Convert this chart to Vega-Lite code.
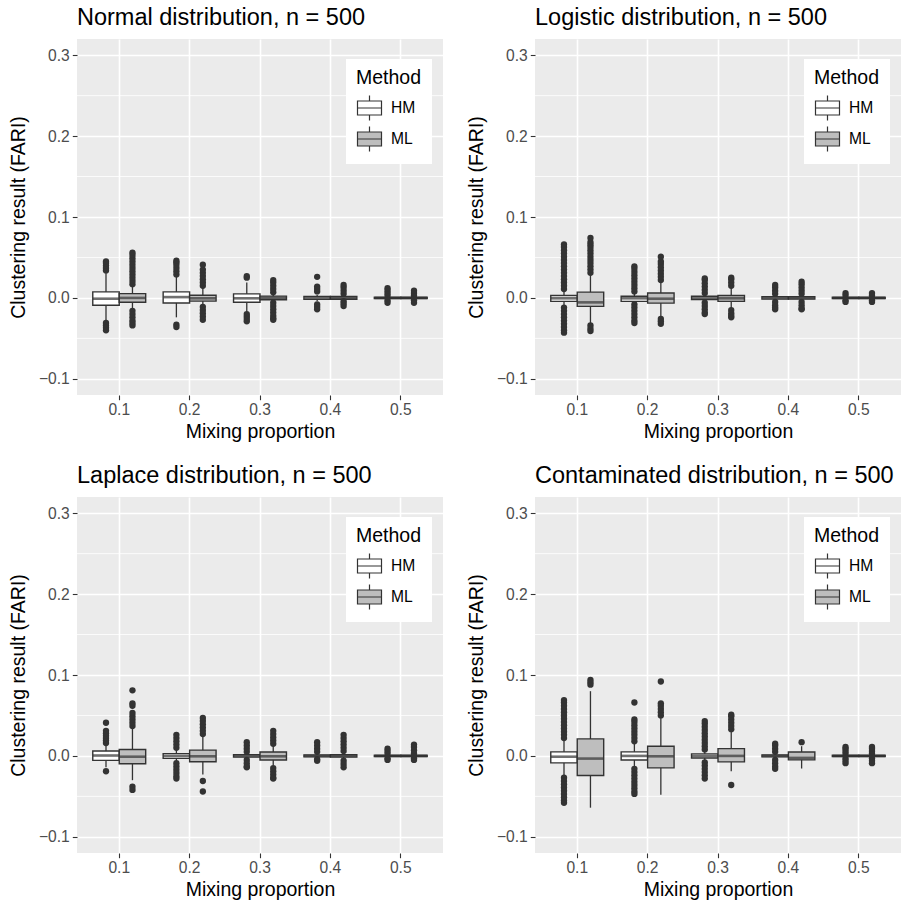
{
  "$schema": "https://vega.github.io/schema/vega-lite/v6.json",
  "padding": {"left": 8, "top": 5, "right": 0, "bottom": 5},
  "datasets": {
    "minor": [{"v": -0.05}, {"v": 0.05}, {"v": 0.15}, {"v": 0.25}],
    "boxes": [
      {"dist": "Normal", "p": "0.1", "method": "HM", "lo": -0.028, "q1": -0.009, "med": -0.001, "q3": 0.0074, "hi": 0.031},
      {"dist": "Normal", "p": "0.1", "method": "ML", "lo": -0.014, "q1": -0.0053, "med": 0.0, "q3": 0.0053, "hi": 0.015},
      {"dist": "Normal", "p": "0.2", "method": "HM", "lo": -0.024, "q1": -0.0062, "med": 0.001, "q3": 0.0074, "hi": 0.027},
      {"dist": "Normal", "p": "0.2", "method": "ML", "lo": -0.009, "q1": -0.004, "med": -0.0005, "q3": 0.0033, "hi": 0.013},
      {"dist": "Normal", "p": "0.3", "method": "HM", "lo": -0.017, "q1": -0.0053, "med": -0.0005, "q3": 0.005, "hi": 0.019},
      {"dist": "Normal", "p": "0.3", "method": "ML", "lo": -0.004, "q1": -0.0022, "med": 0.0, "q3": 0.0022, "hi": 0.005},
      {"dist": "Normal", "p": "0.4", "method": "HM", "lo": -0.004, "q1": -0.0018, "med": 0.0, "q3": 0.0018, "hi": 0.004},
      {"dist": "Normal", "p": "0.4", "method": "ML", "lo": -0.003, "q1": -0.0017, "med": 0.0, "q3": 0.0017, "hi": 0.003},
      {"dist": "Normal", "p": "0.5", "method": "HM", "lo": -0.002, "q1": -0.0008, "med": 0.0, "q3": 0.0008, "hi": 0.002},
      {"dist": "Normal", "p": "0.5", "method": "ML", "lo": -0.002, "q1": -0.0008, "med": 0.0, "q3": 0.0008, "hi": 0.002},
      {"dist": "Logistic", "p": "0.1", "method": "HM", "lo": -0.01, "q1": -0.0043, "med": -0.0005, "q3": 0.003, "hi": 0.009},
      {"dist": "Logistic", "p": "0.1", "method": "ML", "lo": -0.031, "q1": -0.0105, "med": -0.0055, "q3": 0.0072, "hi": 0.029},
      {"dist": "Logistic", "p": "0.2", "method": "HM", "lo": -0.006, "q1": -0.0043, "med": -0.0005, "q3": 0.002, "hi": 0.006},
      {"dist": "Logistic", "p": "0.2", "method": "ML", "lo": -0.023, "q1": -0.0064, "med": -0.001, "q3": 0.006, "hi": 0.02},
      {"dist": "Logistic", "p": "0.3", "method": "HM", "lo": -0.004, "q1": -0.002, "med": 0.0, "q3": 0.002, "hi": 0.004},
      {"dist": "Logistic", "p": "0.3", "method": "ML", "lo": -0.0125, "q1": -0.0043, "med": -0.0005, "q3": 0.003, "hi": 0.013},
      {"dist": "Logistic", "p": "0.4", "method": "HM", "lo": -0.003, "q1": -0.0015, "med": 0.0, "q3": 0.0015, "hi": 0.003},
      {"dist": "Logistic", "p": "0.4", "method": "ML", "lo": -0.003, "q1": -0.0015, "med": 0.0, "q3": 0.0015, "hi": 0.003},
      {"dist": "Logistic", "p": "0.5", "method": "HM", "lo": -0.0015, "q1": -0.0008, "med": 0.0, "q3": 0.0008, "hi": 0.0015},
      {"dist": "Logistic", "p": "0.5", "method": "ML", "lo": -0.0015, "q1": -0.0008, "med": 0.0, "q3": 0.0008, "hi": 0.0015},
      {"dist": "Laplace", "p": "0.1", "method": "HM", "lo": -0.014, "q1": -0.0055, "med": 0.0005, "q3": 0.006, "hi": 0.014},
      {"dist": "Laplace", "p": "0.1", "method": "ML", "lo": -0.03, "q1": -0.0096, "med": -0.001, "q3": 0.008, "hi": 0.035},
      {"dist": "Laplace", "p": "0.2", "method": "HM", "lo": -0.007, "q1": -0.003, "med": 0.0, "q3": 0.0028, "hi": 0.008},
      {"dist": "Laplace", "p": "0.2", "method": "ML", "lo": -0.023, "q1": -0.0072, "med": -0.0005, "q3": 0.0072, "hi": 0.024},
      {"dist": "Laplace", "p": "0.3", "method": "HM", "lo": -0.003, "q1": -0.0015, "med": 0.0, "q3": 0.0015, "hi": 0.003},
      {"dist": "Laplace", "p": "0.3", "method": "ML", "lo": -0.012, "q1": -0.005, "med": -0.0005, "q3": 0.0048, "hi": 0.012},
      {"dist": "Laplace", "p": "0.4", "method": "HM", "lo": -0.003, "q1": -0.0012, "med": 0.0, "q3": 0.0012, "hi": 0.003},
      {"dist": "Laplace", "p": "0.4", "method": "ML", "lo": -0.004, "q1": -0.0015, "med": 0.0, "q3": 0.0015, "hi": 0.004},
      {"dist": "Laplace", "p": "0.5", "method": "HM", "lo": -0.0015, "q1": -0.0008, "med": 0.0, "q3": 0.0008, "hi": 0.0015},
      {"dist": "Laplace", "p": "0.5", "method": "ML", "lo": -0.0015, "q1": -0.0008, "med": 0.0, "q3": 0.0008, "hi": 0.0015},
      {"dist": "Contaminated", "p": "0.1", "method": "HM", "lo": -0.025, "q1": -0.0086, "med": -0.001, "q3": 0.005, "hi": 0.02},
      {"dist": "Contaminated", "p": "0.1", "method": "ML", "lo": -0.064, "q1": -0.0243, "med": -0.0033, "q3": 0.021, "hi": 0.08},
      {"dist": "Contaminated", "p": "0.2", "method": "HM", "lo": -0.014, "q1": -0.005, "med": 0.0, "q3": 0.005, "hi": 0.016},
      {"dist": "Contaminated", "p": "0.2", "method": "ML", "lo": -0.048, "q1": -0.0148, "med": -0.0005, "q3": 0.012, "hi": 0.047},
      {"dist": "Contaminated", "p": "0.3", "method": "HM", "lo": -0.006, "q1": -0.0025, "med": 0.0, "q3": 0.0025, "hi": 0.006},
      {"dist": "Contaminated", "p": "0.3", "method": "ML", "lo": -0.019, "q1": -0.0074, "med": 0.0, "q3": 0.009, "hi": 0.03},
      {"dist": "Contaminated", "p": "0.4", "method": "HM", "lo": -0.003, "q1": -0.0012, "med": 0.0, "q3": 0.0012, "hi": 0.003},
      {"dist": "Contaminated", "p": "0.4", "method": "ML", "lo": -0.0156, "q1": -0.0049, "med": -0.0025, "q3": 0.0049, "hi": 0.012},
      {"dist": "Contaminated", "p": "0.5", "method": "HM", "lo": -0.0015, "q1": -0.0008, "med": 0.0, "q3": 0.0008, "hi": 0.0015},
      {"dist": "Contaminated", "p": "0.5", "method": "ML", "lo": -0.0015, "q1": -0.0008, "med": 0.0, "q3": 0.0008, "hi": 0.0015}
    ],
    "outliers": [
      {"dist": "Normal", "p": "0.1", "method": "HM", "v": 0.034},
      {"dist": "Normal", "p": "0.1", "method": "HM", "v": 0.037},
      {"dist": "Normal", "p": "0.1", "method": "HM", "v": 0.04},
      {"dist": "Normal", "p": "0.1", "method": "HM", "v": 0.043},
      {"dist": "Normal", "p": "0.1", "method": "HM", "v": 0.045},
      {"dist": "Normal", "p": "0.1", "method": "HM", "v": -0.031},
      {"dist": "Normal", "p": "0.1", "method": "HM", "v": -0.034},
      {"dist": "Normal", "p": "0.1", "method": "HM", "v": -0.037},
      {"dist": "Normal", "p": "0.1", "method": "HM", "v": -0.04},
      {"dist": "Normal", "p": "0.1", "method": "ML", "v": 0.017},
      {"dist": "Normal", "p": "0.1", "method": "ML", "v": 0.021},
      {"dist": "Normal", "p": "0.1", "method": "ML", "v": 0.025},
      {"dist": "Normal", "p": "0.1", "method": "ML", "v": 0.029},
      {"dist": "Normal", "p": "0.1", "method": "ML", "v": 0.033},
      {"dist": "Normal", "p": "0.1", "method": "ML", "v": 0.037},
      {"dist": "Normal", "p": "0.1", "method": "ML", "v": 0.041},
      {"dist": "Normal", "p": "0.1", "method": "ML", "v": 0.045},
      {"dist": "Normal", "p": "0.1", "method": "ML", "v": 0.049},
      {"dist": "Normal", "p": "0.1", "method": "ML", "v": 0.053},
      {"dist": "Normal", "p": "0.1", "method": "ML", "v": 0.056},
      {"dist": "Normal", "p": "0.1", "method": "ML", "v": -0.016},
      {"dist": "Normal", "p": "0.1", "method": "ML", "v": -0.02},
      {"dist": "Normal", "p": "0.1", "method": "ML", "v": -0.024},
      {"dist": "Normal", "p": "0.1", "method": "ML", "v": -0.028},
      {"dist": "Normal", "p": "0.1", "method": "ML", "v": -0.031},
      {"dist": "Normal", "p": "0.1", "method": "ML", "v": -0.034},
      {"dist": "Normal", "p": "0.2", "method": "HM", "v": 0.029},
      {"dist": "Normal", "p": "0.2", "method": "HM", "v": 0.033},
      {"dist": "Normal", "p": "0.2", "method": "HM", "v": 0.037},
      {"dist": "Normal", "p": "0.2", "method": "HM", "v": 0.041},
      {"dist": "Normal", "p": "0.2", "method": "HM", "v": 0.044},
      {"dist": "Normal", "p": "0.2", "method": "HM", "v": 0.046},
      {"dist": "Normal", "p": "0.2", "method": "HM", "v": -0.033},
      {"dist": "Normal", "p": "0.2", "method": "HM", "v": -0.036},
      {"dist": "Normal", "p": "0.2", "method": "ML", "v": 0.015},
      {"dist": "Normal", "p": "0.2", "method": "ML", "v": 0.019},
      {"dist": "Normal", "p": "0.2", "method": "ML", "v": 0.023},
      {"dist": "Normal", "p": "0.2", "method": "ML", "v": 0.027},
      {"dist": "Normal", "p": "0.2", "method": "ML", "v": 0.031},
      {"dist": "Normal", "p": "0.2", "method": "ML", "v": 0.035},
      {"dist": "Normal", "p": "0.2", "method": "ML", "v": 0.041},
      {"dist": "Normal", "p": "0.2", "method": "ML", "v": -0.011},
      {"dist": "Normal", "p": "0.2", "method": "ML", "v": -0.015},
      {"dist": "Normal", "p": "0.2", "method": "ML", "v": -0.019},
      {"dist": "Normal", "p": "0.2", "method": "ML", "v": -0.023},
      {"dist": "Normal", "p": "0.2", "method": "ML", "v": -0.027},
      {"dist": "Normal", "p": "0.3", "method": "HM", "v": 0.025},
      {"dist": "Normal", "p": "0.3", "method": "HM", "v": 0.027},
      {"dist": "Normal", "p": "0.3", "method": "HM", "v": -0.02},
      {"dist": "Normal", "p": "0.3", "method": "HM", "v": -0.023},
      {"dist": "Normal", "p": "0.3", "method": "HM", "v": -0.026},
      {"dist": "Normal", "p": "0.3", "method": "HM", "v": -0.029},
      {"dist": "Normal", "p": "0.3", "method": "ML", "v": 0.007},
      {"dist": "Normal", "p": "0.3", "method": "ML", "v": 0.011},
      {"dist": "Normal", "p": "0.3", "method": "ML", "v": 0.015},
      {"dist": "Normal", "p": "0.3", "method": "ML", "v": 0.019},
      {"dist": "Normal", "p": "0.3", "method": "ML", "v": 0.022},
      {"dist": "Normal", "p": "0.3", "method": "ML", "v": -0.006},
      {"dist": "Normal", "p": "0.3", "method": "ML", "v": -0.01},
      {"dist": "Normal", "p": "0.3", "method": "ML", "v": -0.014},
      {"dist": "Normal", "p": "0.3", "method": "ML", "v": -0.018},
      {"dist": "Normal", "p": "0.3", "method": "ML", "v": -0.022},
      {"dist": "Normal", "p": "0.3", "method": "ML", "v": -0.025},
      {"dist": "Normal", "p": "0.3", "method": "ML", "v": -0.027},
      {"dist": "Normal", "p": "0.4", "method": "HM", "v": 0.008},
      {"dist": "Normal", "p": "0.4", "method": "HM", "v": 0.011},
      {"dist": "Normal", "p": "0.4", "method": "HM", "v": 0.014},
      {"dist": "Normal", "p": "0.4", "method": "HM", "v": 0.026},
      {"dist": "Normal", "p": "0.4", "method": "HM", "v": -0.008},
      {"dist": "Normal", "p": "0.4", "method": "HM", "v": -0.011},
      {"dist": "Normal", "p": "0.4", "method": "HM", "v": -0.014},
      {"dist": "Normal", "p": "0.4", "method": "ML", "v": 0.005},
      {"dist": "Normal", "p": "0.4", "method": "ML", "v": 0.009},
      {"dist": "Normal", "p": "0.4", "method": "ML", "v": 0.013},
      {"dist": "Normal", "p": "0.4", "method": "ML", "v": 0.016},
      {"dist": "Normal", "p": "0.4", "method": "ML", "v": -0.004},
      {"dist": "Normal", "p": "0.4", "method": "ML", "v": -0.007},
      {"dist": "Normal", "p": "0.4", "method": "ML", "v": -0.01},
      {"dist": "Normal", "p": "0.5", "method": "HM", "v": 0.003},
      {"dist": "Normal", "p": "0.5", "method": "HM", "v": 0.006},
      {"dist": "Normal", "p": "0.5", "method": "HM", "v": 0.009},
      {"dist": "Normal", "p": "0.5", "method": "HM", "v": 0.012},
      {"dist": "Normal", "p": "0.5", "method": "HM", "v": -0.003},
      {"dist": "Normal", "p": "0.5", "method": "HM", "v": -0.006},
      {"dist": "Normal", "p": "0.5", "method": "ML", "v": 0.003},
      {"dist": "Normal", "p": "0.5", "method": "ML", "v": 0.006},
      {"dist": "Normal", "p": "0.5", "method": "ML", "v": 0.009},
      {"dist": "Normal", "p": "0.5", "method": "ML", "v": -0.003},
      {"dist": "Normal", "p": "0.5", "method": "ML", "v": -0.006},

      {"dist": "Logistic", "p": "0.1", "method": "HM", "v": 0.011},
      {"dist": "Logistic", "p": "0.1", "method": "HM", "v": 0.015},
      {"dist": "Logistic", "p": "0.1", "method": "HM", "v": 0.019},
      {"dist": "Logistic", "p": "0.1", "method": "HM", "v": 0.023},
      {"dist": "Logistic", "p": "0.1", "method": "HM", "v": 0.027},
      {"dist": "Logistic", "p": "0.1", "method": "HM", "v": 0.031},
      {"dist": "Logistic", "p": "0.1", "method": "HM", "v": 0.035},
      {"dist": "Logistic", "p": "0.1", "method": "HM", "v": 0.039},
      {"dist": "Logistic", "p": "0.1", "method": "HM", "v": 0.043},
      {"dist": "Logistic", "p": "0.1", "method": "HM", "v": 0.047},
      {"dist": "Logistic", "p": "0.1", "method": "HM", "v": 0.051},
      {"dist": "Logistic", "p": "0.1", "method": "HM", "v": 0.055},
      {"dist": "Logistic", "p": "0.1", "method": "HM", "v": 0.059},
      {"dist": "Logistic", "p": "0.1", "method": "HM", "v": 0.063},
      {"dist": "Logistic", "p": "0.1", "method": "HM", "v": 0.066},
      {"dist": "Logistic", "p": "0.1", "method": "HM", "v": -0.012},
      {"dist": "Logistic", "p": "0.1", "method": "HM", "v": -0.016},
      {"dist": "Logistic", "p": "0.1", "method": "HM", "v": -0.02},
      {"dist": "Logistic", "p": "0.1", "method": "HM", "v": -0.024},
      {"dist": "Logistic", "p": "0.1", "method": "HM", "v": -0.028},
      {"dist": "Logistic", "p": "0.1", "method": "HM", "v": -0.032},
      {"dist": "Logistic", "p": "0.1", "method": "HM", "v": -0.036},
      {"dist": "Logistic", "p": "0.1", "method": "HM", "v": -0.04},
      {"dist": "Logistic", "p": "0.1", "method": "HM", "v": -0.043},
      {"dist": "Logistic", "p": "0.1", "method": "ML", "v": 0.031},
      {"dist": "Logistic", "p": "0.1", "method": "ML", "v": 0.035},
      {"dist": "Logistic", "p": "0.1", "method": "ML", "v": 0.039},
      {"dist": "Logistic", "p": "0.1", "method": "ML", "v": 0.043},
      {"dist": "Logistic", "p": "0.1", "method": "ML", "v": 0.047},
      {"dist": "Logistic", "p": "0.1", "method": "ML", "v": 0.051},
      {"dist": "Logistic", "p": "0.1", "method": "ML", "v": 0.055},
      {"dist": "Logistic", "p": "0.1", "method": "ML", "v": 0.059},
      {"dist": "Logistic", "p": "0.1", "method": "ML", "v": 0.063},
      {"dist": "Logistic", "p": "0.1", "method": "ML", "v": 0.066},
      {"dist": "Logistic", "p": "0.1", "method": "ML", "v": 0.069},
      {"dist": "Logistic", "p": "0.1", "method": "ML", "v": 0.074},
      {"dist": "Logistic", "p": "0.1", "method": "ML", "v": -0.034},
      {"dist": "Logistic", "p": "0.1", "method": "ML", "v": -0.038},
      {"dist": "Logistic", "p": "0.1", "method": "ML", "v": -0.041},
      {"dist": "Logistic", "p": "0.2", "method": "HM", "v": 0.008},
      {"dist": "Logistic", "p": "0.2", "method": "HM", "v": 0.012},
      {"dist": "Logistic", "p": "0.2", "method": "HM", "v": 0.016},
      {"dist": "Logistic", "p": "0.2", "method": "HM", "v": 0.02},
      {"dist": "Logistic", "p": "0.2", "method": "HM", "v": 0.024},
      {"dist": "Logistic", "p": "0.2", "method": "HM", "v": 0.028},
      {"dist": "Logistic", "p": "0.2", "method": "HM", "v": 0.032},
      {"dist": "Logistic", "p": "0.2", "method": "HM", "v": 0.036},
      {"dist": "Logistic", "p": "0.2", "method": "HM", "v": 0.039},
      {"dist": "Logistic", "p": "0.2", "method": "HM", "v": -0.008},
      {"dist": "Logistic", "p": "0.2", "method": "HM", "v": -0.012},
      {"dist": "Logistic", "p": "0.2", "method": "HM", "v": -0.016},
      {"dist": "Logistic", "p": "0.2", "method": "HM", "v": -0.02},
      {"dist": "Logistic", "p": "0.2", "method": "HM", "v": -0.024},
      {"dist": "Logistic", "p": "0.2", "method": "HM", "v": -0.028},
      {"dist": "Logistic", "p": "0.2", "method": "HM", "v": -0.031},
      {"dist": "Logistic", "p": "0.2", "method": "ML", "v": 0.022},
      {"dist": "Logistic", "p": "0.2", "method": "ML", "v": 0.026},
      {"dist": "Logistic", "p": "0.2", "method": "ML", "v": 0.03},
      {"dist": "Logistic", "p": "0.2", "method": "ML", "v": 0.034},
      {"dist": "Logistic", "p": "0.2", "method": "ML", "v": 0.038},
      {"dist": "Logistic", "p": "0.2", "method": "ML", "v": 0.042},
      {"dist": "Logistic", "p": "0.2", "method": "ML", "v": 0.045},
      {"dist": "Logistic", "p": "0.2", "method": "ML", "v": 0.051},
      {"dist": "Logistic", "p": "0.2", "method": "ML", "v": -0.026},
      {"dist": "Logistic", "p": "0.2", "method": "ML", "v": -0.029},
      {"dist": "Logistic", "p": "0.2", "method": "ML", "v": -0.032},
      {"dist": "Logistic", "p": "0.3", "method": "HM", "v": 0.006},
      {"dist": "Logistic", "p": "0.3", "method": "HM", "v": 0.01},
      {"dist": "Logistic", "p": "0.3", "method": "HM", "v": 0.014},
      {"dist": "Logistic", "p": "0.3", "method": "HM", "v": 0.018},
      {"dist": "Logistic", "p": "0.3", "method": "HM", "v": 0.022},
      {"dist": "Logistic", "p": "0.3", "method": "HM", "v": 0.024},
      {"dist": "Logistic", "p": "0.3", "method": "HM", "v": -0.006},
      {"dist": "Logistic", "p": "0.3", "method": "HM", "v": -0.01},
      {"dist": "Logistic", "p": "0.3", "method": "HM", "v": -0.014},
      {"dist": "Logistic", "p": "0.3", "method": "HM", "v": -0.018},
      {"dist": "Logistic", "p": "0.3", "method": "HM", "v": -0.02},
      {"dist": "Logistic", "p": "0.3", "method": "ML", "v": 0.015},
      {"dist": "Logistic", "p": "0.3", "method": "ML", "v": 0.019},
      {"dist": "Logistic", "p": "0.3", "method": "ML", "v": 0.023},
      {"dist": "Logistic", "p": "0.3", "method": "ML", "v": 0.025},
      {"dist": "Logistic", "p": "0.3", "method": "ML", "v": -0.015},
      {"dist": "Logistic", "p": "0.3", "method": "ML", "v": -0.019},
      {"dist": "Logistic", "p": "0.3", "method": "ML", "v": -0.022},
      {"dist": "Logistic", "p": "0.3", "method": "ML", "v": -0.024},
      {"dist": "Logistic", "p": "0.4", "method": "HM", "v": 0.005},
      {"dist": "Logistic", "p": "0.4", "method": "HM", "v": 0.009},
      {"dist": "Logistic", "p": "0.4", "method": "HM", "v": 0.013},
      {"dist": "Logistic", "p": "0.4", "method": "HM", "v": 0.016},
      {"dist": "Logistic", "p": "0.4", "method": "HM", "v": -0.005},
      {"dist": "Logistic", "p": "0.4", "method": "HM", "v": -0.009},
      {"dist": "Logistic", "p": "0.4", "method": "HM", "v": -0.012},
      {"dist": "Logistic", "p": "0.4", "method": "HM", "v": -0.014},
      {"dist": "Logistic", "p": "0.4", "method": "ML", "v": 0.005},
      {"dist": "Logistic", "p": "0.4", "method": "ML", "v": 0.009},
      {"dist": "Logistic", "p": "0.4", "method": "ML", "v": 0.013},
      {"dist": "Logistic", "p": "0.4", "method": "ML", "v": 0.017},
      {"dist": "Logistic", "p": "0.4", "method": "ML", "v": 0.02},
      {"dist": "Logistic", "p": "0.4", "method": "ML", "v": -0.005},
      {"dist": "Logistic", "p": "0.4", "method": "ML", "v": -0.009},
      {"dist": "Logistic", "p": "0.4", "method": "ML", "v": -0.013},
      {"dist": "Logistic", "p": "0.4", "method": "ML", "v": -0.014},
      {"dist": "Logistic", "p": "0.5", "method": "HM", "v": 0.003},
      {"dist": "Logistic", "p": "0.5", "method": "HM", "v": 0.006},
      {"dist": "Logistic", "p": "0.5", "method": "HM", "v": -0.003},
      {"dist": "Logistic", "p": "0.5", "method": "HM", "v": -0.005},
      {"dist": "Logistic", "p": "0.5", "method": "ML", "v": 0.003},
      {"dist": "Logistic", "p": "0.5", "method": "ML", "v": 0.006},
      {"dist": "Logistic", "p": "0.5", "method": "ML", "v": -0.003},
      {"dist": "Logistic", "p": "0.5", "method": "ML", "v": -0.005},

      {"dist": "Laplace", "p": "0.1", "method": "HM", "v": 0.016},
      {"dist": "Laplace", "p": "0.1", "method": "HM", "v": 0.019},
      {"dist": "Laplace", "p": "0.1", "method": "HM", "v": 0.022},
      {"dist": "Laplace", "p": "0.1", "method": "HM", "v": 0.025},
      {"dist": "Laplace", "p": "0.1", "method": "HM", "v": 0.028},
      {"dist": "Laplace", "p": "0.1", "method": "HM", "v": 0.031},
      {"dist": "Laplace", "p": "0.1", "method": "HM", "v": 0.041},
      {"dist": "Laplace", "p": "0.1", "method": "HM", "v": -0.019},
      {"dist": "Laplace", "p": "0.1", "method": "ML", "v": 0.037},
      {"dist": "Laplace", "p": "0.1", "method": "ML", "v": 0.041},
      {"dist": "Laplace", "p": "0.1", "method": "ML", "v": 0.045},
      {"dist": "Laplace", "p": "0.1", "method": "ML", "v": 0.049},
      {"dist": "Laplace", "p": "0.1", "method": "ML", "v": 0.053},
      {"dist": "Laplace", "p": "0.1", "method": "ML", "v": 0.062},
      {"dist": "Laplace", "p": "0.1", "method": "ML", "v": 0.065},
      {"dist": "Laplace", "p": "0.1", "method": "ML", "v": 0.081},
      {"dist": "Laplace", "p": "0.1", "method": "ML", "v": -0.038},
      {"dist": "Laplace", "p": "0.1", "method": "ML", "v": -0.042},
      {"dist": "Laplace", "p": "0.2", "method": "HM", "v": 0.01},
      {"dist": "Laplace", "p": "0.2", "method": "HM", "v": 0.014},
      {"dist": "Laplace", "p": "0.2", "method": "HM", "v": 0.018},
      {"dist": "Laplace", "p": "0.2", "method": "HM", "v": 0.022},
      {"dist": "Laplace", "p": "0.2", "method": "HM", "v": 0.026},
      {"dist": "Laplace", "p": "0.2", "method": "HM", "v": -0.009},
      {"dist": "Laplace", "p": "0.2", "method": "HM", "v": -0.013},
      {"dist": "Laplace", "p": "0.2", "method": "HM", "v": -0.017},
      {"dist": "Laplace", "p": "0.2", "method": "HM", "v": -0.021},
      {"dist": "Laplace", "p": "0.2", "method": "HM", "v": -0.025},
      {"dist": "Laplace", "p": "0.2", "method": "HM", "v": -0.028},
      {"dist": "Laplace", "p": "0.2", "method": "ML", "v": 0.027},
      {"dist": "Laplace", "p": "0.2", "method": "ML", "v": 0.031},
      {"dist": "Laplace", "p": "0.2", "method": "ML", "v": 0.035},
      {"dist": "Laplace", "p": "0.2", "method": "ML", "v": 0.039},
      {"dist": "Laplace", "p": "0.2", "method": "ML", "v": 0.043},
      {"dist": "Laplace", "p": "0.2", "method": "ML", "v": 0.047},
      {"dist": "Laplace", "p": "0.2", "method": "ML", "v": -0.031},
      {"dist": "Laplace", "p": "0.2", "method": "ML", "v": -0.044},
      {"dist": "Laplace", "p": "0.3", "method": "HM", "v": 0.005},
      {"dist": "Laplace", "p": "0.3", "method": "HM", "v": 0.009},
      {"dist": "Laplace", "p": "0.3", "method": "HM", "v": 0.013},
      {"dist": "Laplace", "p": "0.3", "method": "HM", "v": 0.017},
      {"dist": "Laplace", "p": "0.3", "method": "HM", "v": -0.005},
      {"dist": "Laplace", "p": "0.3", "method": "HM", "v": -0.009},
      {"dist": "Laplace", "p": "0.3", "method": "HM", "v": -0.013},
      {"dist": "Laplace", "p": "0.3", "method": "HM", "v": -0.014},
      {"dist": "Laplace", "p": "0.3", "method": "ML", "v": 0.015},
      {"dist": "Laplace", "p": "0.3", "method": "ML", "v": 0.019},
      {"dist": "Laplace", "p": "0.3", "method": "ML", "v": 0.023},
      {"dist": "Laplace", "p": "0.3", "method": "ML", "v": 0.027},
      {"dist": "Laplace", "p": "0.3", "method": "ML", "v": 0.031},
      {"dist": "Laplace", "p": "0.3", "method": "ML", "v": -0.015},
      {"dist": "Laplace", "p": "0.3", "method": "ML", "v": -0.019},
      {"dist": "Laplace", "p": "0.3", "method": "ML", "v": -0.023},
      {"dist": "Laplace", "p": "0.3", "method": "ML", "v": -0.027},
      {"dist": "Laplace", "p": "0.3", "method": "ML", "v": -0.028},
      {"dist": "Laplace", "p": "0.4", "method": "HM", "v": 0.005},
      {"dist": "Laplace", "p": "0.4", "method": "HM", "v": 0.009},
      {"dist": "Laplace", "p": "0.4", "method": "HM", "v": 0.013},
      {"dist": "Laplace", "p": "0.4", "method": "HM", "v": 0.017},
      {"dist": "Laplace", "p": "0.4", "method": "HM", "v": -0.004},
      {"dist": "Laplace", "p": "0.4", "method": "HM", "v": -0.006},
      {"dist": "Laplace", "p": "0.4", "method": "ML", "v": 0.006},
      {"dist": "Laplace", "p": "0.4", "method": "ML", "v": 0.01},
      {"dist": "Laplace", "p": "0.4", "method": "ML", "v": 0.014},
      {"dist": "Laplace", "p": "0.4", "method": "ML", "v": 0.018},
      {"dist": "Laplace", "p": "0.4", "method": "ML", "v": 0.022},
      {"dist": "Laplace", "p": "0.4", "method": "ML", "v": 0.026},
      {"dist": "Laplace", "p": "0.4", "method": "ML", "v": -0.006},
      {"dist": "Laplace", "p": "0.4", "method": "ML", "v": -0.01},
      {"dist": "Laplace", "p": "0.4", "method": "ML", "v": -0.014},
      {"dist": "Laplace", "p": "0.5", "method": "HM", "v": 0.003},
      {"dist": "Laplace", "p": "0.5", "method": "HM", "v": 0.006},
      {"dist": "Laplace", "p": "0.5", "method": "HM", "v": 0.009},
      {"dist": "Laplace", "p": "0.5", "method": "HM", "v": -0.003},
      {"dist": "Laplace", "p": "0.5", "method": "HM", "v": -0.005},
      {"dist": "Laplace", "p": "0.5", "method": "ML", "v": 0.003},
      {"dist": "Laplace", "p": "0.5", "method": "ML", "v": 0.007},
      {"dist": "Laplace", "p": "0.5", "method": "ML", "v": 0.011},
      {"dist": "Laplace", "p": "0.5", "method": "ML", "v": 0.014},
      {"dist": "Laplace", "p": "0.5", "method": "ML", "v": -0.003},
      {"dist": "Laplace", "p": "0.5", "method": "ML", "v": -0.005},

      {"dist": "Contaminated", "p": "0.1", "method": "HM", "v": 0.022},
      {"dist": "Contaminated", "p": "0.1", "method": "HM", "v": 0.026},
      {"dist": "Contaminated", "p": "0.1", "method": "HM", "v": 0.03},
      {"dist": "Contaminated", "p": "0.1", "method": "HM", "v": 0.034},
      {"dist": "Contaminated", "p": "0.1", "method": "HM", "v": 0.038},
      {"dist": "Contaminated", "p": "0.1", "method": "HM", "v": 0.042},
      {"dist": "Contaminated", "p": "0.1", "method": "HM", "v": 0.046},
      {"dist": "Contaminated", "p": "0.1", "method": "HM", "v": 0.05},
      {"dist": "Contaminated", "p": "0.1", "method": "HM", "v": 0.054},
      {"dist": "Contaminated", "p": "0.1", "method": "HM", "v": 0.058},
      {"dist": "Contaminated", "p": "0.1", "method": "HM", "v": 0.062},
      {"dist": "Contaminated", "p": "0.1", "method": "HM", "v": 0.066},
      {"dist": "Contaminated", "p": "0.1", "method": "HM", "v": 0.069},
      {"dist": "Contaminated", "p": "0.1", "method": "HM", "v": -0.027},
      {"dist": "Contaminated", "p": "0.1", "method": "HM", "v": -0.031},
      {"dist": "Contaminated", "p": "0.1", "method": "HM", "v": -0.035},
      {"dist": "Contaminated", "p": "0.1", "method": "HM", "v": -0.039},
      {"dist": "Contaminated", "p": "0.1", "method": "HM", "v": -0.043},
      {"dist": "Contaminated", "p": "0.1", "method": "HM", "v": -0.047},
      {"dist": "Contaminated", "p": "0.1", "method": "HM", "v": -0.051},
      {"dist": "Contaminated", "p": "0.1", "method": "HM", "v": -0.055},
      {"dist": "Contaminated", "p": "0.1", "method": "HM", "v": -0.058},
      {"dist": "Contaminated", "p": "0.1", "method": "ML", "v": 0.088},
      {"dist": "Contaminated", "p": "0.1", "method": "ML", "v": 0.091},
      {"dist": "Contaminated", "p": "0.1", "method": "ML", "v": 0.094},
      {"dist": "Contaminated", "p": "0.2", "method": "HM", "v": 0.018},
      {"dist": "Contaminated", "p": "0.2", "method": "HM", "v": 0.022},
      {"dist": "Contaminated", "p": "0.2", "method": "HM", "v": 0.026},
      {"dist": "Contaminated", "p": "0.2", "method": "HM", "v": 0.03},
      {"dist": "Contaminated", "p": "0.2", "method": "HM", "v": 0.034},
      {"dist": "Contaminated", "p": "0.2", "method": "HM", "v": 0.038},
      {"dist": "Contaminated", "p": "0.2", "method": "HM", "v": 0.042},
      {"dist": "Contaminated", "p": "0.2", "method": "HM", "v": 0.045},
      {"dist": "Contaminated", "p": "0.2", "method": "HM", "v": 0.066},
      {"dist": "Contaminated", "p": "0.2", "method": "HM", "v": -0.016},
      {"dist": "Contaminated", "p": "0.2", "method": "HM", "v": -0.02},
      {"dist": "Contaminated", "p": "0.2", "method": "HM", "v": -0.024},
      {"dist": "Contaminated", "p": "0.2", "method": "HM", "v": -0.028},
      {"dist": "Contaminated", "p": "0.2", "method": "HM", "v": -0.032},
      {"dist": "Contaminated", "p": "0.2", "method": "HM", "v": -0.036},
      {"dist": "Contaminated", "p": "0.2", "method": "HM", "v": -0.04},
      {"dist": "Contaminated", "p": "0.2", "method": "HM", "v": -0.044},
      {"dist": "Contaminated", "p": "0.2", "method": "HM", "v": -0.047},
      {"dist": "Contaminated", "p": "0.2", "method": "ML", "v": 0.05},
      {"dist": "Contaminated", "p": "0.2", "method": "ML", "v": 0.054},
      {"dist": "Contaminated", "p": "0.2", "method": "ML", "v": 0.058},
      {"dist": "Contaminated", "p": "0.2", "method": "ML", "v": 0.062},
      {"dist": "Contaminated", "p": "0.2", "method": "ML", "v": 0.065},
      {"dist": "Contaminated", "p": "0.2", "method": "ML", "v": 0.092},
      {"dist": "Contaminated", "p": "0.3", "method": "HM", "v": 0.008},
      {"dist": "Contaminated", "p": "0.3", "method": "HM", "v": 0.012},
      {"dist": "Contaminated", "p": "0.3", "method": "HM", "v": 0.016},
      {"dist": "Contaminated", "p": "0.3", "method": "HM", "v": 0.02},
      {"dist": "Contaminated", "p": "0.3", "method": "HM", "v": 0.024},
      {"dist": "Contaminated", "p": "0.3", "method": "HM", "v": 0.028},
      {"dist": "Contaminated", "p": "0.3", "method": "HM", "v": 0.032},
      {"dist": "Contaminated", "p": "0.3", "method": "HM", "v": 0.036},
      {"dist": "Contaminated", "p": "0.3", "method": "HM", "v": 0.04},
      {"dist": "Contaminated", "p": "0.3", "method": "HM", "v": 0.043},
      {"dist": "Contaminated", "p": "0.3", "method": "HM", "v": -0.008},
      {"dist": "Contaminated", "p": "0.3", "method": "HM", "v": -0.012},
      {"dist": "Contaminated", "p": "0.3", "method": "HM", "v": -0.016},
      {"dist": "Contaminated", "p": "0.3", "method": "HM", "v": -0.02},
      {"dist": "Contaminated", "p": "0.3", "method": "HM", "v": -0.024},
      {"dist": "Contaminated", "p": "0.3", "method": "HM", "v": -0.028},
      {"dist": "Contaminated", "p": "0.3", "method": "ML", "v": 0.033},
      {"dist": "Contaminated", "p": "0.3", "method": "ML", "v": 0.037},
      {"dist": "Contaminated", "p": "0.3", "method": "ML", "v": 0.041},
      {"dist": "Contaminated", "p": "0.3", "method": "ML", "v": 0.045},
      {"dist": "Contaminated", "p": "0.3", "method": "ML", "v": 0.049},
      {"dist": "Contaminated", "p": "0.3", "method": "ML", "v": 0.051},
      {"dist": "Contaminated", "p": "0.3", "method": "ML", "v": -0.036},
      {"dist": "Contaminated", "p": "0.4", "method": "HM", "v": 0.005},
      {"dist": "Contaminated", "p": "0.4", "method": "HM", "v": 0.009},
      {"dist": "Contaminated", "p": "0.4", "method": "HM", "v": 0.013},
      {"dist": "Contaminated", "p": "0.4", "method": "HM", "v": 0.015},
      {"dist": "Contaminated", "p": "0.4", "method": "HM", "v": -0.005},
      {"dist": "Contaminated", "p": "0.4", "method": "HM", "v": -0.009},
      {"dist": "Contaminated", "p": "0.4", "method": "HM", "v": -0.013},
      {"dist": "Contaminated", "p": "0.4", "method": "HM", "v": -0.016},
      {"dist": "Contaminated", "p": "0.4", "method": "ML", "v": 0.017},
      {"dist": "Contaminated", "p": "0.5", "method": "HM", "v": 0.003},
      {"dist": "Contaminated", "p": "0.5", "method": "HM", "v": 0.006},
      {"dist": "Contaminated", "p": "0.5", "method": "HM", "v": 0.009},
      {"dist": "Contaminated", "p": "0.5", "method": "HM", "v": 0.011},
      {"dist": "Contaminated", "p": "0.5", "method": "HM", "v": -0.003},
      {"dist": "Contaminated", "p": "0.5", "method": "HM", "v": -0.006},
      {"dist": "Contaminated", "p": "0.5", "method": "HM", "v": -0.009},
      {"dist": "Contaminated", "p": "0.5", "method": "ML", "v": 0.003},
      {"dist": "Contaminated", "p": "0.5", "method": "ML", "v": 0.006},
      {"dist": "Contaminated", "p": "0.5", "method": "ML", "v": 0.009},
      {"dist": "Contaminated", "p": "0.5", "method": "ML", "v": 0.011},
      {"dist": "Contaminated", "p": "0.5", "method": "ML", "v": -0.003},
      {"dist": "Contaminated", "p": "0.5", "method": "ML", "v": -0.006},
      {"dist": "Contaminated", "p": "0.5", "method": "ML", "v": -0.009}
    ]
  },
  "columns": 2,
  "bounds": "flush",
  "spacing": {"row": 102, "column": 92},
  "concat": [
    {
      "title": "Normal distribution, n = 500",
      "width": 366, "height": 356,
      "layer": [
        {"data": {"name": "minor"}, "mark": {"type": "rule", "color": "#FFFFFF", "strokeWidth": 0.8},
         "encoding": {"y": {"field": "v", "type": "quantitative", "title": "Clustering result (FARI)", "scale": {"domain": [-0.12, 0.32], "nice": false, "zero": false}, "axis": {"values": [-0.1, 0, 0.1, 0.2, 0.3], "format": ".1f"}}}},
        {"data": {"name": "boxes"}, "transform": [{"filter": "datum.dist === 'Normal'"}],
         "encoding": {
           "x": {"field": "p", "type": "nominal", "title": "Mixing proportion", "scale": {"type": "band", "paddingInner": 0, "paddingOuter": 0.1}, "axis": {"grid": true, "bandPosition": 0.5, "labelAngle": 0}},
           "xOffset": {"field": "method", "type": "nominal", "scale": {"paddingInner": 0, "paddingOuter": 0.33}}},
         "layer": [
           {"mark": {"type": "rule", "color": "#333333", "strokeWidth": 1.3}, "encoding": {"y": {"field": "lo", "type": "quantitative", "title": "Clustering result (FARI)"}, "y2": {"field": "hi"}}},
           {"mark": {"type": "bar", "stroke": "#333333", "strokeWidth": 1.4}, "encoding": {"y": {"field": "q1", "type": "quantitative", "title": "Clustering result (FARI)"}, "y2": {"field": "q3"},
             "fill": {"field": "method", "type": "nominal", "title": "Method", "scale": {"domain": ["HM", "ML"], "range": ["#FFFFFF", "#BEBEBE"]}, "legend": {"orient": "none", "legendX": 269, "legendY": 20}}}},
           {"mark": {"type": "tick", "color": "#333333", "size": 26, "thickness": 2.6}, "encoding": {"y": {"field": "med", "type": "quantitative", "title": "Clustering result (FARI)"}}}
         ]},
        {"data": {"name": "outliers"}, "transform": [{"filter": "datum.dist === 'Normal'"}],
         "mark": {"type": "point", "filled": true, "color": "#333333", "size": 40, "opacity": 1},
         "encoding": {
           "x": {"field": "p", "type": "nominal", "title": "Mixing proportion"},
           "xOffset": {"field": "method", "type": "nominal"},
           "y": {"field": "v", "type": "quantitative", "title": "Clustering result (FARI)"}}}
      ]
    },
    {
      "title": "Logistic distribution, n = 500",
      "width": 366, "height": 356,
      "layer": [
        {"data": {"name": "minor"}, "mark": {"type": "rule", "color": "#FFFFFF", "strokeWidth": 0.8},
         "encoding": {"y": {"field": "v", "type": "quantitative", "title": "Clustering result (FARI)", "scale": {"domain": [-0.12, 0.32], "nice": false, "zero": false}, "axis": {"values": [-0.1, 0, 0.1, 0.2, 0.3], "format": ".1f"}}}},
        {"data": {"name": "boxes"}, "transform": [{"filter": "datum.dist === 'Logistic'"}],
         "encoding": {
           "x": {"field": "p", "type": "nominal", "title": "Mixing proportion", "scale": {"type": "band", "paddingInner": 0, "paddingOuter": 0.1}, "axis": {"grid": true, "bandPosition": 0.5, "labelAngle": 0}},
           "xOffset": {"field": "method", "type": "nominal", "scale": {"paddingInner": 0, "paddingOuter": 0.33}}},
         "layer": [
           {"mark": {"type": "rule", "color": "#333333", "strokeWidth": 1.3}, "encoding": {"y": {"field": "lo", "type": "quantitative", "title": "Clustering result (FARI)"}, "y2": {"field": "hi"}}},
           {"mark": {"type": "bar", "stroke": "#333333", "strokeWidth": 1.4}, "encoding": {"y": {"field": "q1", "type": "quantitative", "title": "Clustering result (FARI)"}, "y2": {"field": "q3"},
             "fill": {"field": "method", "type": "nominal", "title": "Method", "scale": {"domain": ["HM", "ML"], "range": ["#FFFFFF", "#BEBEBE"]}, "legend": {"orient": "none", "legendX": 269, "legendY": 20}}}},
           {"mark": {"type": "tick", "color": "#333333", "size": 26, "thickness": 2.6}, "encoding": {"y": {"field": "med", "type": "quantitative", "title": "Clustering result (FARI)"}}}
         ]},
        {"data": {"name": "outliers"}, "transform": [{"filter": "datum.dist === 'Logistic'"}],
         "mark": {"type": "point", "filled": true, "color": "#333333", "size": 40, "opacity": 1},
         "encoding": {
           "x": {"field": "p", "type": "nominal", "title": "Mixing proportion"},
           "xOffset": {"field": "method", "type": "nominal"},
           "y": {"field": "v", "type": "quantitative", "title": "Clustering result (FARI)"}}}
      ]
    },
    {
      "title": "Laplace distribution, n = 500",
      "width": 366, "height": 356,
      "layer": [
        {"data": {"name": "minor"}, "mark": {"type": "rule", "color": "#FFFFFF", "strokeWidth": 0.8},
         "encoding": {"y": {"field": "v", "type": "quantitative", "title": "Clustering result (FARI)", "scale": {"domain": [-0.12, 0.32], "nice": false, "zero": false}, "axis": {"values": [-0.1, 0, 0.1, 0.2, 0.3], "format": ".1f"}}}},
        {"data": {"name": "boxes"}, "transform": [{"filter": "datum.dist === 'Laplace'"}],
         "encoding": {
           "x": {"field": "p", "type": "nominal", "title": "Mixing proportion", "scale": {"type": "band", "paddingInner": 0, "paddingOuter": 0.1}, "axis": {"grid": true, "bandPosition": 0.5, "labelAngle": 0}},
           "xOffset": {"field": "method", "type": "nominal", "scale": {"paddingInner": 0, "paddingOuter": 0.33}}},
         "layer": [
           {"mark": {"type": "rule", "color": "#333333", "strokeWidth": 1.3}, "encoding": {"y": {"field": "lo", "type": "quantitative", "title": "Clustering result (FARI)"}, "y2": {"field": "hi"}}},
           {"mark": {"type": "bar", "stroke": "#333333", "strokeWidth": 1.4}, "encoding": {"y": {"field": "q1", "type": "quantitative", "title": "Clustering result (FARI)"}, "y2": {"field": "q3"},
             "fill": {"field": "method", "type": "nominal", "title": "Method", "scale": {"domain": ["HM", "ML"], "range": ["#FFFFFF", "#BEBEBE"]}, "legend": {"orient": "none", "legendX": 269, "legendY": 20}}}},
           {"mark": {"type": "tick", "color": "#333333", "size": 26, "thickness": 2.6}, "encoding": {"y": {"field": "med", "type": "quantitative", "title": "Clustering result (FARI)"}}}
         ]},
        {"data": {"name": "outliers"}, "transform": [{"filter": "datum.dist === 'Laplace'"}],
         "mark": {"type": "point", "filled": true, "color": "#333333", "size": 40, "opacity": 1},
         "encoding": {
           "x": {"field": "p", "type": "nominal", "title": "Mixing proportion"},
           "xOffset": {"field": "method", "type": "nominal"},
           "y": {"field": "v", "type": "quantitative", "title": "Clustering result (FARI)"}}}
      ]
    },
    {
      "title": "Contaminated distribution, n = 500",
      "width": 366, "height": 356,
      "layer": [
        {"data": {"name": "minor"}, "mark": {"type": "rule", "color": "#FFFFFF", "strokeWidth": 0.8},
         "encoding": {"y": {"field": "v", "type": "quantitative", "title": "Clustering result (FARI)", "scale": {"domain": [-0.12, 0.32], "nice": false, "zero": false}, "axis": {"values": [-0.1, 0, 0.1, 0.2, 0.3], "format": ".1f"}}}},
        {"data": {"name": "boxes"}, "transform": [{"filter": "datum.dist === 'Contaminated'"}],
         "encoding": {
           "x": {"field": "p", "type": "nominal", "title": "Mixing proportion", "scale": {"type": "band", "paddingInner": 0, "paddingOuter": 0.1}, "axis": {"grid": true, "bandPosition": 0.5, "labelAngle": 0}},
           "xOffset": {"field": "method", "type": "nominal", "scale": {"paddingInner": 0, "paddingOuter": 0.33}}},
         "layer": [
           {"mark": {"type": "rule", "color": "#333333", "strokeWidth": 1.3}, "encoding": {"y": {"field": "lo", "type": "quantitative", "title": "Clustering result (FARI)"}, "y2": {"field": "hi"}}},
           {"mark": {"type": "bar", "stroke": "#333333", "strokeWidth": 1.4}, "encoding": {"y": {"field": "q1", "type": "quantitative", "title": "Clustering result (FARI)"}, "y2": {"field": "q3"},
             "fill": {"field": "method", "type": "nominal", "title": "Method", "scale": {"domain": ["HM", "ML"], "range": ["#FFFFFF", "#BEBEBE"]}, "legend": {"orient": "none", "legendX": 269, "legendY": 20}}}},
           {"mark": {"type": "tick", "color": "#333333", "size": 26, "thickness": 2.6}, "encoding": {"y": {"field": "med", "type": "quantitative", "title": "Clustering result (FARI)"}}}
         ]},
        {"data": {"name": "outliers"}, "transform": [{"filter": "datum.dist === 'Contaminated'"}],
         "mark": {"type": "point", "filled": true, "color": "#333333", "size": 40, "opacity": 1},
         "encoding": {
           "x": {"field": "p", "type": "nominal", "title": "Mixing proportion"},
           "xOffset": {"field": "method", "type": "nominal"},
           "y": {"field": "v", "type": "quantitative", "title": "Clustering result (FARI)"}}}
      ]
    }
  ],
  "resolve": {"scale": {"fill": "independent"}, "legend": {"fill": "independent"}},
  "config": {
    "font": "Liberation Sans",
    "view": {"fill": "#EBEBEB", "stroke": null},
    "title": {"anchor": "start", "frame": "group", "fontSize": 23.5, "fontWeight": "normal", "color": "#000000", "offset": 10, "baseline": "alphabetic"},
    "axis": {
      "domain": false,
      "labelFont": "Liberation Sans", "labelFontSize": 15.6, "labelColor": "#4D4D4D",
      "tickColor": "#333333", "tickSize": 4.7, "tickWidth": 1.1,
      "titleFont": "Liberation Sans", "titleFontSize": 19.5, "titleFontWeight": "normal", "titleColor": "#000000",
      "grid": true, "gridColor": "#FFFFFF", "gridWidth": 1.6, "labelPadding": 3
    },
    "axisX": {"titlePadding": 4},
    "axisY": {"titlePadding": 10},
    "legend": {
      "fillColor": "#FFFFFF", "padding": 10,
      "titleFont": "Liberation Sans", "titleFontSize": 19.5, "titleFontWeight": "normal", "titleColor": "#000000", "titlePadding": 6,
      "labelFont": "Liberation Sans", "labelFontSize": 15.6, "labelColor": "#000000", "labelOffset": 8,
      "symbolType": "M-0.96,-0.56H0.96V0.56H-0.96Z M-0.96,0H0.96 M0,-0.56V-1 M0,0.56V1",
      "symbolSize": 625, "symbolStrokeColor": "#333333", "symbolStrokeWidth": 1.2, "rowPadding": 0
    }
  }
}
